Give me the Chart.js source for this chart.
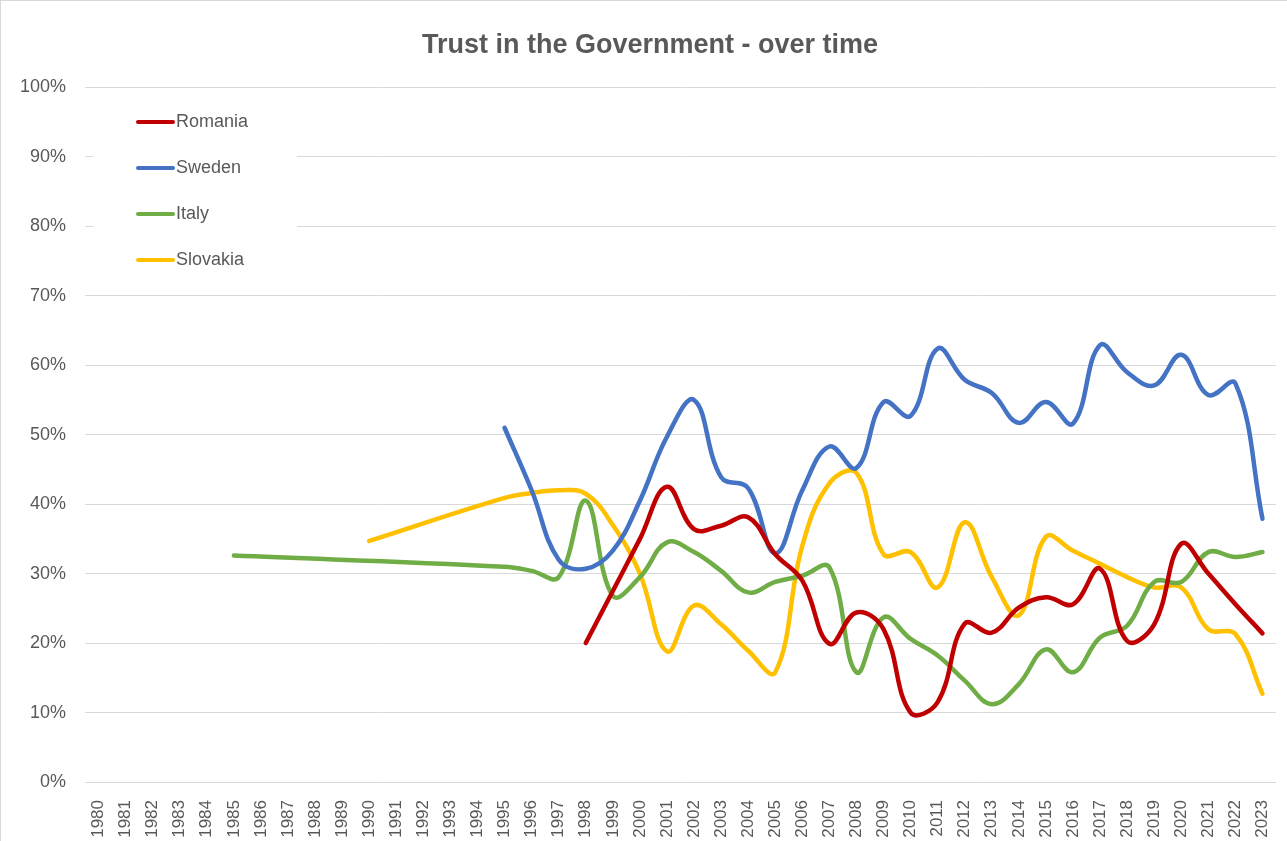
<!DOCTYPE html>
<html>
<head>
<meta charset="utf-8">
<script src="https://cdn.jsdelivr.net/npm/chart.js@4"></script>
<style>
  html, body { margin: 0; padding: 0; background: #fff; }
  #wrap { position: relative; width: 1287px; height: 841px; box-sizing: border-box; border-left: 1px solid #d9d9d9; border-top: 1px solid #d9d9d9; }
</style>
</head>
<body>
<div id="wrap"><canvas id="trustChart"></canvas></div>
<script>
// years on the category axis
const years = [];
for (let y = 1980; y <= 2023; y++) years.push(String(y));

const yTicks = [0, 10, 20, 30, 40, 50, 60, 70, 80, 90, 100];

// trust values in %, null = no survey that year
const romania = [
    null, null, null, null, null, null, null, null, null, null,
    null, null, null, null, null, null, null, null,
    20, 27.5, 35, 42.5, 36.4, 36.9, 38.1, 32.8, 29, 19.9, 24.4, 22,
    10, 11.5, 22.8, 21.5, 25.1, 26.6, 25.6, 30.7, 20.3, 22.7, 34.3, 30, 25.6, 21.4
];
const sweden = [
    null, null, null, null, null, null, null, null, null, null,
    null, null, null, null, null,
    51, 42, 32, 30.7, 33.3, 40.5, 49.7, 55, 43.9, 42.3, 32.9, 42, 48.3, 45.2, 54.7,
    52.7, 62.4, 57.9, 56, 51.7, 54.7, 51.6, 62.9, 59, 57.1, 61.5, 55.7, 57.4, 37.9
];
const italy = [
    null, null, null, null, null, 32.6, null, null, null, null,
    null, null, null, null, null,
    31, 30.4, 29.5, 40.5, 26.8, 29.5, 34.5, 33.1, 30.4, 27.3, 28.8, 29.7, 30.9, 15.8, 23.7,
    20.6, 18.2, 14.6, 11.2, 14.1, 19.1, 15.8, 20.8, 22.5, 28.8, 28.8, 33.1, 32.4, 33.1
];
const slovakia = [
    null, null, null, null, null, null, null, null, null, null,
    34.7, null, null, null, null,
    40.9, 41.6, 42, 41.5, 37, 30, 18.8, 25.4, 22.7, 18.9, 15.8, 34, 43, 44.5, 32.8,
    33.1, 28, 37.4, 29.5, 24, 35.3, 33.3, 31.4, 29.5, 28, 28, 22, 21.3, 12.7
];

const textColor = '#595959';
const fontFamily = '"Liberation Sans", Arial, sans-serif';

function series(label, data, color) {
    return {
        label,
        data,
        borderColor: color,
        backgroundColor: color,
        borderWidth: 4.5,
        pointRadius: 0,
        tension: 0.4,
        spanGaps: true,
        borderCapStyle: 'round',
        borderJoinStyle: 'round'
    };
}

// legend sits inside the plot, top-left, on a white box
const insideLegend = {
    id: 'insideLegend',
    afterDatasetsDraw(chart) {
        const ctx = chart.ctx;
        ctx.save();
        ctx.fillStyle = '#ffffff';
        ctx.fillRect(92, 95, 204, 185);
        ctx.font = '18px ' + fontFamily;
        ctx.textBaseline = 'middle';
        chart.data.datasets.forEach((ds, i) => {
            const y = 121 + i * 46;
            ctx.strokeStyle = ds.borderColor;
            ctx.lineWidth = 4;
            ctx.lineCap = 'round';
            ctx.beginPath();
            ctx.moveTo(137, y);
            ctx.lineTo(172, y);
            ctx.stroke();
            ctx.fillStyle = textColor;
            ctx.fillText(ds.label, 175, y);
        });
        ctx.restore();
    }
};

const ctx = document.getElementById('trustChart').getContext('2d');

new Chart(ctx, {
    type: 'line',
    data: {
        labels: years,
        datasets: [
            series('Romania', romania, '#C00000'),
            series('Sweden', sweden, '#4472C4'),
            series('Italy', italy, '#70AD47'),
            series('Slovakia', slovakia, '#FFC000')
        ]
    },
    options: {
        responsive: true,
        maintainAspectRatio: false,
        animation: false,
        layout: { padding: { left: 12, right: 0, top: 0, bottom: 0 } },
        plugins: {
            title: {
                display: true,
                text: 'Trust in the Government - over time',
                color: textColor,
                font: { family: fontFamily, size: 27, weight: 'bold' },
                padding: { top: 28, bottom: 26 }
            },
            legend: { display: false },
            tooltip: { enabled: false }
        },
        scales: {
            x: {
                offset: true,
                grid: { display: false },
                border: { display: false },
                ticks: {
                    color: textColor,
                    font: { family: fontFamily, size: 17 },
                    minRotation: 90,
                    maxRotation: 90,
                    autoSkip: false,
                    padding: 10
                },
                afterFit(scale) {
                    scale.height = 59;
                    scale.paddingLeft = 0;
                    scale.paddingRight = 11;
                }
            },
            y: {
                min: 0,
                max: 100,
                afterBuildTicks(scale) { scale.ticks = yTicks.map(v => ({ value: v })); },
                grid: { color: '#d9d9d9', lineWidth: 1, drawTicks: false },
                border: { display: false },
                ticks: {
                    color: textColor,
                    font: { family: fontFamily, size: 18 },
                    padding: 19,
                    callback: v => v + '%'
                },
                afterFit(scale) { scale.width = 72; }
            }
        }
    },
    plugins: [insideLegend]
});
</script>
</body>
</html>
